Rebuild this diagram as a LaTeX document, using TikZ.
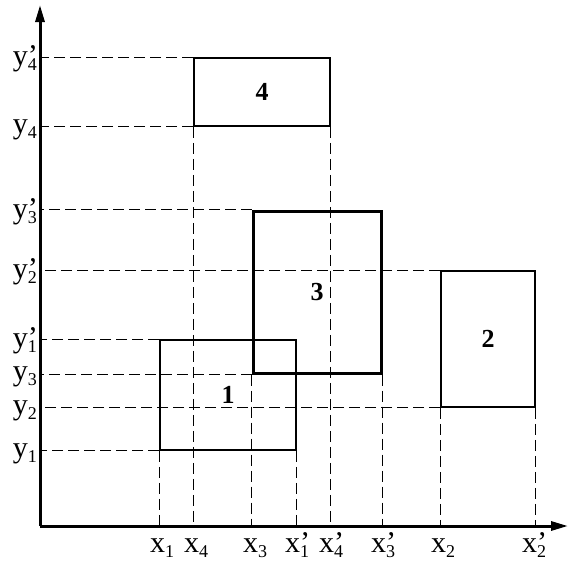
\documentclass[tikz,border=0pt]{standalone}
\usepackage{fontspec}
\setmainfont{Liberation Serif}
\usepackage{tikz}
\usetikzlibrary{arrows.meta}

\newcommand{\axlab}[2]{#1\raisebox{-5pt}{\fontsize{18}{18}\selectfont #2}}
\newcommand{\axlabp}[2]{#1\rlap{’}\raisebox{-5pt}{\fontsize{18}{18}\selectfont #2}}

\begin{document}
\begin{tikzpicture}[x=1pt, y=-1pt, >={Triangle[length=17pt,width=9pt]},
    box/.style={draw, inner sep=0pt, line width=1.8pt, font=\fontsize{26}{26}\selectfont\bfseries},
    guide/.style={line width=1pt, dash pattern=on 11pt off 5pt},
    axis/.style={line width=3pt},
    ylab/.style={anchor=base east, inner sep=0pt, font=\fontsize{30}{30}\selectfont},
    xlab/.style={anchor=base west, inner sep=0pt, font=\fontsize{30}{30}\selectfont}]
    \useasboundingbox (0,0) rectangle (573,562);

    % Axes
    \coordinate (o)    at (40,526);
    \coordinate (xend) at (568,526);
    \coordinate (yend) at (40,5);
    \draw [axis,->] (o) -- (xend);
    \draw [axis,->] (o) -- (yend);

    % Rectangles {r1, r2, r3, r4}
    \node [box, minimum width=136pt, minimum height=110pt]                 (r1) at (228,395) {1};
    \node [box, minimum width=94pt,  minimum height=136pt]                 (r2) at (488,339) {2};
    \node [box, minimum width=128pt, minimum height=162pt, line width=3pt] (r3) at (317,292) {3};
    \node [box, minimum width=136pt, minimum height=68pt]                  (r4) at (262,92)  {4};

    % Horizontal guides
    \draw [guide] (r4.north west) -- (r4.north west -| o);
    \draw [guide] (r4.south west) -- (r4.south west -| o);
    \draw [guide] (r3.north west) -- (r3.north west -| o);
    \draw [guide] (r2.north west) -- (r2.north west -| o);
    \draw [guide] (r1.north west) -- (r1.north west -| o);
    \draw [guide] (r3.south west) -- (r3.south west -| o);
    \draw [guide] (r2.south west) -- (r2.south west -| o);
    \draw [guide] (r1.south west) -- (r1.south west -| o);

    % Vertical guides
    \draw [guide] (r1.south west) -- (r1.south west |- o);
    \draw [guide] (r1.south east) -- (r1.south east |- o);
    \draw [guide] (r2.south west) -- (r2.south west |- o);
    \draw [guide] (r2.south east) -- (r2.south east |- o);
    \draw [guide] (r3.south west) -- (r3.south west |- o);
    \draw [guide] (r3.south east) -- (r3.south east |- o);
    \draw [guide] (r4.south west) -- (r4.south west |- o);
    \draw [guide] (r4.south east) -- (r4.south east |- o);

    % Labels on the y axis
    \node [ylab] (y4p) at (37,65)  {\axlabp{y}{4}};
    \node [ylab] (y4)  at (37,133) {\axlab{y}{4}};
    \node [ylab] (y3p) at (37,218) {\axlabp{y}{3}};
    \node [ylab] (y2p) at (37,278) {\axlabp{y}{2}};
    \node [ylab] (y1p) at (37,347) {\axlabp{y}{1}};
    \node [ylab] (y3)  at (37,380) {\axlab{y}{3}};
    \node [ylab] (y2)  at (37,414) {\axlab{y}{2}};
    \node [ylab] (y1)  at (37,457) {\axlab{y}{1}};

    % Labels on the x axis
    \node [xlab] (x1)  at (150,552) {\axlab{x}{1}};
    \node [xlab] (x4)  at (184,552) {\axlab{x}{4}};
    \node [xlab] (x3)  at (243,552) {\axlab{x}{3}};
    \node [xlab] (x1p) at (285,552) {\axlabp{x}{1}};
    \node [xlab] (x4p) at (319,552) {\axlabp{x}{4}};
    \node [xlab] (x3p) at (371,552) {\axlabp{x}{3}};
    \node [xlab] (x2)  at (431,552) {\axlab{x}{2}};
    \node [xlab] (x2p) at (522,552) {\axlabp{x}{2}};
\end{tikzpicture}
\end{document}
